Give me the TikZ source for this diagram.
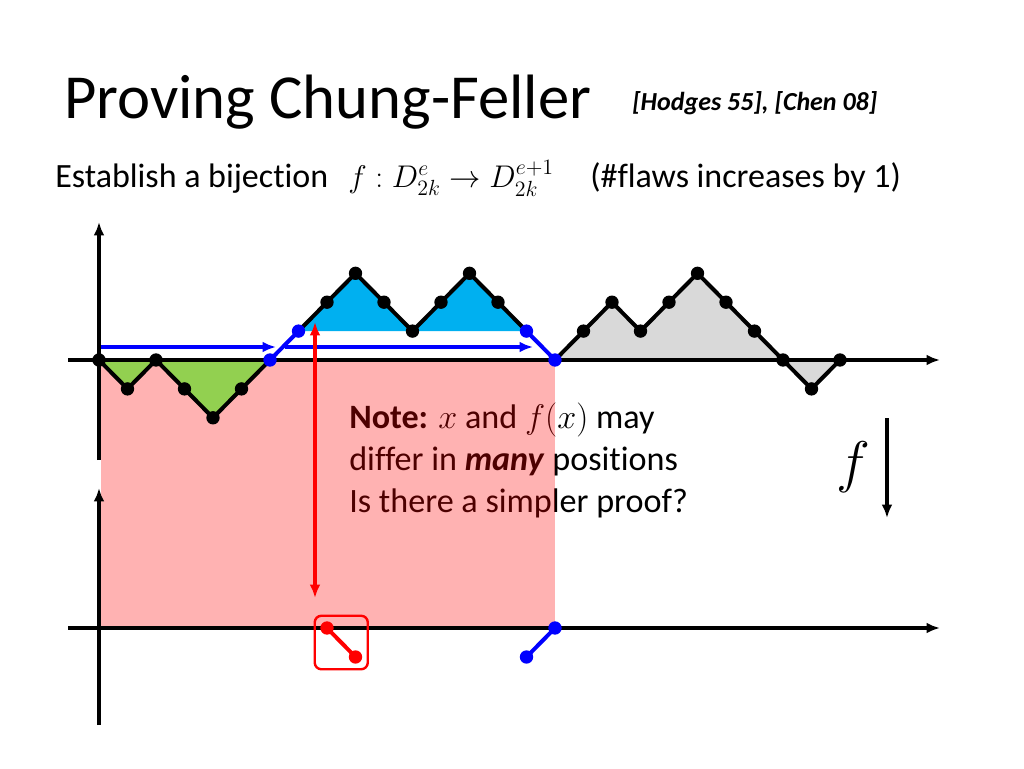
\RequirePackage{fix-cm}
\documentclass[tikz,border=0pt]{standalone}
\usepackage[no-math]{fontspec}
\setmainfont[Ligatures=NoCommon]{Carlito}
\usepackage{amsmath}
\usepackage{amssymb}
\usetikzlibrary{arrows.meta,fit}
\definecolor{flawgreen}{RGB}{146,208,80}
\definecolor{peakblue}{RGB}{0,176,240}
\definecolor{restgray}{RGB}{217,217,217}
\definecolor{pathblue}{RGB}{0,0,255}
\definecolor{swapred}{RGB}{255,0,0}

\tikzset{
  axis/.style={line width=2.3pt, -{Latex[length=10pt,width=8pt]}},
  walk/.style={line width=3pt, line join=round},
  dot/.style={circle, fill=black, inner sep=0pt, minimum size=10pt},
  bluedot/.style={dot, fill=pathblue},
  reddot/.style={dot, fill=swapred},
  shiftarrow/.style={line width=2.3pt, pathblue, -{Latex[length=10pt,width=8pt]}},
  txt/.style={anchor=base west, inner sep=0pt}
}

\begin{document}
\begin{tikzpicture}[x=0.75pt, y=-0.75pt]
\useasboundingbox (0,0) rectangle (1024,768);
\fill[white] (0,0) rectangle (1024,768);

% header
\node[txt, font=\fontsize{47}{56}\selectfont] (title) at (64,118) {Proving Chung-Feller};
\node[txt, font=\fontsize{19.5}{23}\selectfont\bfseries\itshape] (refs) at (632,110) {[Hodges 55], [Chen 08]};
\node[txt, font=\fontsize{25.5}{30}\selectfont] (intro) at (55,187) {Establish a bijection};
\node[txt, font=\fontsize{23.5}{28}\selectfont] (map) at (348,187) {$f : D^e_{2k} \to D^{e+1}_{2k}$};
\node[txt, font=\fontsize{25.5}{30}\selectfont] (flaws) at (590,187) {(\#flaws increases by 1)};

% note (under the shaded band)
\node[txt, font=\fontsize{25.6}{30}\selectfont] (note1) at (349,428) {\textbf{Note:} $x$ and $f(x)$ may};
\node[txt, font=\fontsize{25.6}{30}\selectfont] (note2) at (349,470) {differ in \textbf{\textit{many}} positions};
\node[txt, font=\fontsize{25.6}{30}\selectfont] (note3) at (349,512) {Is there a simpler proof?};

% lattice points of the walk
\foreach \h [count=\i from 0] in {0,-1,0,-1,-2,-1,0,1,2,3,2,1,2,3,2,1,0,1,2,1,2,3,2,1,0,-1,0}
  \coordinate (p\i) at (99+28.5*\i, 360-28.9*\h);
\coordinate (b8) at (99+28.5*8, 628);
\coordinate (b9) at (99+28.5*9, 657);
\coordinate (b15) at (99+28.5*15, 657);
\coordinate (b16) at (99+28.5*16, 628);

% shaded band
\fill[swapred, opacity=0.3] (101,360) rectangle (b16);

% areas
\fill[flawgreen] (p0) -- (p1) -- (p2) -- (p3) -- (p4) -- (p5) -- (p6) -- cycle;
\fill[peakblue] (p7) -- (p8) -- (p9) -- (p10) -- (p11) -- (p12) -- (p13) -- (p14) -- (p15) -- cycle;
\fill[restgray] (p16) -- (p17) -- (p18) -- (p19) -- (p20) -- (p21) -- (p22) -- (p23) -- (p24) -- (p25) -- (p26) -- cycle;

% axes
\draw[axis] (68,360) -- (940,360);
\draw[axis] (99,460) -- (99,222);
\draw[axis] (68,628) -- (940,628);
\draw[axis] (99,725) -- (99,488);

% walk
\draw[walk] (p0) -- (p1) -- (p2) -- (p3) -- (p4) -- (p5) -- (p6);
\draw[walk] (p7) -- (p8) -- (p9) -- (p10) -- (p11) -- (p12) -- (p13) -- (p14) -- (p15);
\draw[walk] (p16) -- (p17) -- (p18) -- (p19) -- (p20) -- (p21) -- (p22) -- (p23) -- (p24) -- (p25) -- (p26);
\draw[walk, pathblue] (p6) -- (p7);
\draw[walk, pathblue] (p15) -- (p16);
\foreach \i in {0,...,5,8,9,...,14,17,18,...,26}
  \node[dot] (d\i) at (p\i) {};
\foreach \i in {6,7,15,16}
  \node[bluedot] (d\i) at (p\i) {};

% shifts
\coordinate (s0) at (101,347);
\coordinate (s1) at (276,347);
\coordinate (s2) at (285,347);
\coordinate (s3) at (533,347);
\draw[shiftarrow] (s0) -- (s1);
\draw[shiftarrow] (s2) -- (s3);

% image of the walk
\draw[walk, swapred] (b8) -- (b9);
\node[reddot] (e8) at (b8) {};
\node[reddot] (e9) at (b9) {};
\node[draw=swapred, line width=1.8pt, rounded corners=5pt, fit=(e8)(e9), inner sep=4pt] (swapbox) {};
\draw[walk, pathblue] (b15) -- (b16);
\node[bluedot] (e15) at (b15) {};
\node[bluedot] (e16) at (b16) {};

\coordinate (r0) at (315,322);
\coordinate (r1) at (315,598);
\draw[line width=2.3pt, swapred, {Latex[length=10pt,width=8pt]}-{Latex[length=10pt,width=8pt]}] (r0) -- (r1);

% map f
\node[font=\fontsize{43}{48}\selectfont] (fsym) at (853,467) {$f$};
\coordinate (f0) at (887,418);
\coordinate (f1) at (887,518);
\draw[axis] (f0) -- (f1);
\end{tikzpicture}
\end{document}
